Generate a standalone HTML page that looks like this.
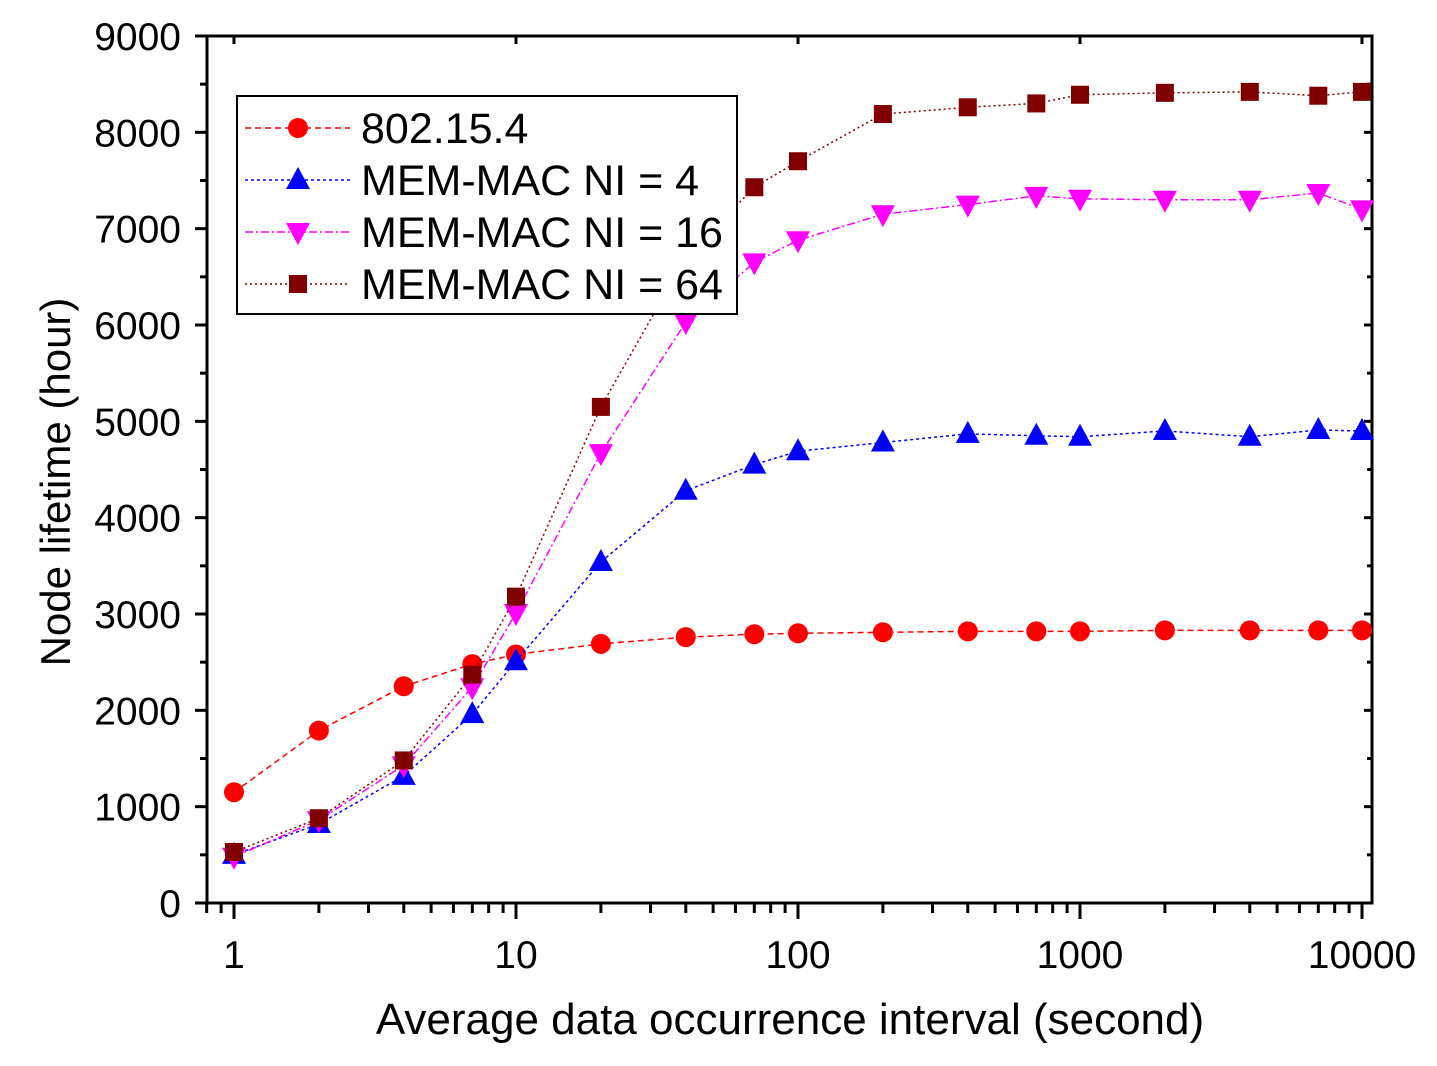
<!DOCTYPE html>
<html><head><meta charset="utf-8"><style>body{margin:0;background:#fff}svg{display:block}text{font-family:"Liberation Sans",Arial,sans-serif}</style></head>
<body>
<svg id="chart" width="1437" height="1066" viewBox="0 0 1437 1066"></svg>
<script>
const xValues=[1,2,4,7,10,20,40,70,100,200,400,700,1000,2000,4000,7000,10000];
const s802=[1150,1790,2250,2480,2580,2690,2760,2790,2800,2810,2820,2820,2820,2830,2830,2830,2830];
const sNI4=[500,820,1320,1960,2510,3540,4280,4550,4690,4780,4870,4850,4840,4900,4840,4910,4900];
const sNI16=[480,860,1430,2240,3010,4670,6030,6650,6880,7150,7250,7340,7310,7300,7300,7370,7200];
const sNI64=[530,880,1480,2370,3180,5150,6700,7430,7700,8190,8260,8300,8390,8410,8420,8380,8420];
const yTicks=[0,1000,2000,3000,4000,5000,6000,7000,8000,9000];
const xTicks=[1,10,100,1000,10000];
const NS="http://www.w3.org/2000/svg";
const svg=document.getElementById('chart');
const L=207,R=1372,T=36,B=903;
const X=v=>234+282*Math.log10(v);
const Y=v=>B-(v/9000)*(B-T);
function mk(t,a,p){const e=document.createElementNS(NS,t);for(const k in a)e.setAttribute(k,a[k]);(p||svg).appendChild(e);return e;}
const box=mk('rect',{x:L,y:T,width:R-L,height:B-T,fill:'none',stroke:'#000','stroke-width':3});


yTicks.forEach(v=>{
 mk('line',{x1:L-12,x2:L,y1:Y(v),y2:Y(v),stroke:'#000','stroke-width':3});
 mk('line',{x1:R-8,x2:R,y1:Y(v),y2:Y(v),stroke:'#000','stroke-width':3});
 if(v<9000){mk('line',{x1:L-7,x2:L,y1:Y(v+500),y2:Y(v+500),stroke:'#000','stroke-width':3});
 mk('line',{x1:R-5,x2:R,y1:Y(v+500),y2:Y(v+500),stroke:'#000','stroke-width':3});}
 const t=mk('text',{x:L-26,y:Y(v)+14,'text-anchor':'end','font-size':39});
 t.textContent=v;
 
 
});
for(let d=-1;d<=4;d++){for(let m=1;m<10;m++){const v=m*Math.pow(10,d);const x=X(v);if(x<L-1||x>R+1)continue;
 const major=m===1;
 mk('line',{x1:x,x2:x,y1:B,y2:B+(major?16:10),stroke:'#000','stroke-width':3});
 if(major)mk('line',{x1:x,x2:x,y1:T,y2:T+8,stroke:'#000','stroke-width':3});}}
xTicks.forEach(v=>{const t=mk('text',{x:X(v),y:B+65,'text-anchor':'middle','font-size':39});t.textContent=v;
 
 });
const xt=mk('text',{x:790,y:1034,'text-anchor':'middle','font-size':44});xt.textContent='Average data occurrence interval (second)';


const yt=mk('text',{x:0,y:0,'text-anchor':'middle','font-size':42,transform:'translate(70,482) rotate(-90)'});yt.textContent='Node lifetime (hour)';


function marker(g,type,x,y,c){
 if(type==='circle')mk('circle',{cx:x,cy:y,r:10,fill:c},g);
 else if(type==='up')mk('polygon',{points:`${x},${y-13} ${x+12},${y+9} ${x-12},${y+9}`,fill:c},g);
 else if(type==='down')mk('polygon',{points:`${x},${y+13} ${x+12},${y-9} ${x-12},${y-9}`,fill:c},g);
 else mk('rect',{x:x-9,y:y-9,width:18,height:18,fill:c},g);
}
const series=[
 {name:'802.15.4',data:s802,c:'#ff0000',m:'circle',dash:'6,4'},
 {name:'MEM-MAC NI = 4',data:sNI4,c:'#0000ff',m:'up',dash:'3,3'},
 {name:'MEM-MAC NI = 16',data:sNI16,c:'#ff00ff',m:'down',dash:'8,3,2,3'},
 {name:'MEM-MAC NI = 64',data:sNI64,c:'#800000',m:'square',dash:'2,3'}];
series.forEach((s,i)=>{
 const g=mk('g',{});
 
 
 mk('polyline',{points:s.data.map((v,j)=>X(xValues[j])+','+Y(v)).join(' '),fill:'none',stroke:s.c,'stroke-width':1.5,'stroke-dasharray':s.dash},g);
 s.data.forEach((v,j)=>marker(g,s.m,X(xValues[j]),Y(v),s.c));
});
const lg=mk('g',{});


mk('rect',{x:237,y:96,width:500,height:218,fill:'#fff',stroke:'#000','stroke-width':2},lg);
series.forEach((s,i)=>{const y=128+i*52;
 const e=mk('g',{},lg);
 
 
 mk('line',{x1:245,x2:350,y1:y,y2:y,stroke:s.c,'stroke-width':1.5,'stroke-dasharray':s.dash},e);
 marker(e,s.m,298,y,s.c);
 const t=mk('text',{x:361,y:y+15,'font-size':43},e);t.textContent=s.name;});
</script>
</body></html>
